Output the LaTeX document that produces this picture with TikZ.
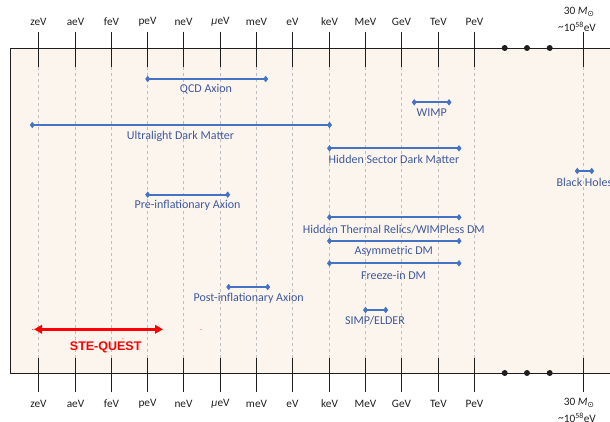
\documentclass[tikz,border=0pt]{standalone}
\usepackage{fontspec}
\setmainfont{Carlito}
\newfontfamily\arialfont{Liberation Sans}
\newfontfamily\symfont{DejaVu Sans}
\usetikzlibrary{arrows.meta}

\definecolor{panelfill}{RGB}{252,245,238}
\definecolor{rangeblue}{RGB}{68,114,196}
\definecolor{labelblue}{RGB}{62,88,160}
\definecolor{gridgray}{RGB}{190,190,190}
\definecolor{axisink}{RGB}{30,30,30}

\tikzset{
  scalelab/.style={font=\fontsize{11.3}{12}\selectfont, text=axisink, inner sep=0pt},
  tickline/.style={axisink, line width=1.1pt},
  gridline/.style={gridgray, line width=0.6pt, dash pattern=on 3pt off 3pt},
  rangebar/.style={rangeblue, line width=1.8pt,
    {Diamond[length=5pt,width=6.5pt]}-{Diamond[length=5pt,width=6.5pt]},
    shorten <=-2.5pt, shorten >=-2.5pt},
  rangelab/.style={font=\fontsize{12}{13}\selectfont, text=labelblue, inner sep=0pt},
  bigdot/.style={circle, fill=axisink, inner sep=0pt, minimum size=6pt},
}

\newcommand{\solarmass}{30 \textit{M}\raisebox{-0.35ex}{\fontsize{8}{8}\selectfont\symfont ⊙}}
\newcommand{\bhenergy}{\raisebox{0.2ex}{\textasciitilde}10\textsuperscript{58}eV}

\begin{document}
\begin{tikzpicture}[x=1pt,y=-1pt]
\useasboundingbox (0,0) rectangle (610,422);
\clip (0,0) rectangle (610,422);

% panel
\draw[axisink, line width=0.9pt, fill=panelfill] (10,48) rectangle (640,373);

% energy scale: ticks, grid lines, labels
\foreach \lab [count=\i from 0] in {zeV,aeV,feV,peV,neV,{{\itshape μ}eV},meV,eV,keV,MeV,GeV,TeV,PeV}{
  \pgfmathsetmacro\xx{floor(38.7+36.3*\i)+0.5}
  \draw[gridline] (\xx,67) -- (\xx,358);
  \draw[tickline] (\xx,32) -- (\xx,67);
  \draw[tickline] (\xx,358) -- (\xx,392);
  \node[scalelab] (top\i) at (\xx,22) {\lab};
  \node[scalelab] (bot\i) at (\xx,404) {\lab};
}

% black-hole end of the scale
\draw[gridline] (583.5,67) -- (583.5,358);
\draw[tickline] (583.5,32) -- (583.5,67);
\draw[tickline] (583.5,358) -- (583.5,392);
\node[scalelab] (bhtopa) at (579,12) {\solarmass};
\node[scalelab] (bhtopb) at (577,27) {\bhenergy};
\node[scalelab] (bhbota) at (579,403) {\solarmass};
\node[scalelab] (bhbotb) at (577,418) {\bhenergy};

% gap in the scale
\foreach \xx [count=\k] in {504.7,527,549.7}{
  \node[bigdot] (gapt\k) at (\xx,48) {};
  \node[bigdot] (gapb\k) at (\xx,373) {};
}

% dark matter candidate ranges
\coordinate (qcdA) at (147.7,79);   \coordinate (qcdB) at (265.7,79);
\draw[rangebar] (qcdA) -- (qcdB);
\node[rangelab] (qcd) at (206,89.5) {QCD Axion};

\coordinate (wimpA) at (414.3,102.3); \coordinate (wimpB) at (449,102.3);
\draw[rangebar] (wimpA) -- (wimpB);
\node[rangelab] (wimp) at (431.7,112.5) {WIMP};

\coordinate (uldmA) at (32.3,125); \coordinate (uldmB) at (329.5,125);
\draw[rangebar] (uldmA) -- (uldmB);
\node[rangelab] (uldm) at (180.5,136) {Ultralight Dark Matter};

\coordinate (hsA) at (329.5,148.3); \coordinate (hsB) at (459,148.3);
\draw[rangebar] (hsA) -- (hsB);
\node[rangelab] (hs) at (394,159.5) {Hidden Sector Dark Matter};

\coordinate (bhA) at (577.3,171); \coordinate (bhB) at (591.7,171);
\draw[rangebar] (bhA) -- (bhB);
\node[rangelab, anchor=west] (bh) at (556.5,182.5) {Black Holes};

\coordinate (preA) at (147.7,194.7); \coordinate (preB) at (227.7,194.7);
\draw[rangebar] (preA) -- (preB);
\node[rangelab] (pre) at (187.5,205.5) {Pre-inflationary Axion};

\coordinate (htA) at (329.5,217.3); \coordinate (htB) at (459,217.3);
\draw[rangebar] (htA) -- (htB);
\node[rangelab] (ht) at (393.8,229.5) {Hidden Thermal Relics/WIMPless DM};

\coordinate (asA) at (329.5,241); \coordinate (asB) at (459,241);
\draw[rangebar] (asA) -- (asB);
\node[rangelab] (asym) at (393.8,251.5) {Asymmetric DM};

\coordinate (fiA) at (329.5,263.3); \coordinate (fiB) at (459,263.3);
\draw[rangebar] (fiA) -- (fiB);
\node[rangelab] (fi) at (393.5,275) {Freeze-in DM};

\coordinate (postA) at (228.7,287); \coordinate (postB) at (267.7,287);
\draw[rangebar] (postA) -- (postB);
\node[rangelab] (post) at (248.7,298.5) {Post-inflationary Axion};

\coordinate (simpA) at (365.5,310); \coordinate (simpB) at (385.7,310);
\draw[rangebar] (simpA) -- (simpB);
\node[rangelab] (simp) at (375,321) {SIMP/ELDER};

% clock-comparison mission reach
\coordinate (steA) at (34,329.3); \coordinate (steB) at (163,329.3);
\draw[red, line width=2.4pt, {Triangle[length=8pt,width=8.5pt]}-{Triangle[length=8pt,width=8.5pt]}] (steA) -- (steB);
\node[font=\arialfont\bfseries\fontsize{12.5}{13}\selectfont, text=red, inner sep=0pt] (ste) at (105.7,347) {STE-QUEST};
\fill[red] (32.7,329.3) circle (0.5pt);
\fill[red] (201,329.3) circle (0.5pt);
\fill[red] (122.7,338.3) circle (0.4pt);
\end{tikzpicture}
\end{document}
